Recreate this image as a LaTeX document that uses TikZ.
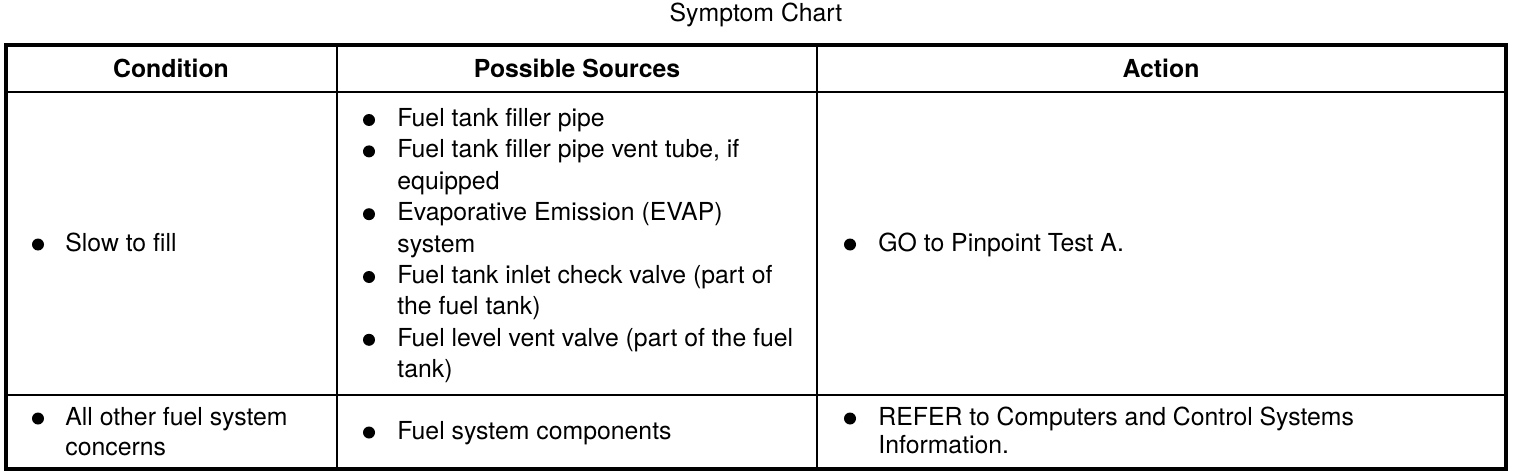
\documentclass[tikz,border=0pt]{standalone}
\usepackage{fontspec}
\setmainfont{TeX Gyre Heros}
\usetikzlibrary{positioning}

\begin{document}
\begin{tikzpicture}[x=0.5pt, y=-0.5pt, font=\fontsize{12.4}{15.7}\selectfont,
  txt/.style={anchor=base west, inner sep=0},
  hdr/.style={anchor=base, inner sep=0, font=\fontsize{12.4}{15.7}\selectfont\bfseries},
  dot/.style={circle, fill, inner sep=0, minimum size=6pt},
  rule/.style={line width=1pt}]
  \useasboundingbox (0,0) rectangle (1520,476);
  \draw (756,22) node[anchor=base, inner sep=0] (title) {Symptom Chart};

  % frame and rules
  \draw[line width=2pt] (6,45) rectangle (1505.5,469);
  \draw[rule] (6,92) -- (1505.5,92);
  \draw[rule] (6,395) -- (1505.5,395);
  \draw[rule] (337,45) -- (337,469);
  \draw[rule] (817,45) -- (817,469);

  % headings
  \draw (171,78) node[hdr] (hcond) {Condition};
  \draw (577,78) node[hdr] (hsrc) {Possible Sources};
  \draw (1161,78) node[hdr] (hact) {Action};

  % slow to fill
  \draw (38,244.5) node[dot] (cb1) {}; \draw (65,251) node[txt] (cond1) {Slow to fill};
  \foreach \k in {0,1,3,5,7}
    \draw (369,126.5+31.4*\k-6.5) node[dot] (sb\k) {};
  \foreach \t [count=\k from 0] in {Fuel tank filler pipe, {Fuel tank filler pipe vent tube, if}, equipped,
      Evaporative Emission (EVAP), system, Fuel tank inlet check valve (part of, the fuel tank),
      Fuel level vent valve (part of the fuel, tank)}
    \draw (397,126.5+31.4*\k) node[txt] (src\k) {\t};
  \draw (850,244.5) node[dot] (ab1) {}; \draw (878,251) node[txt] (act1) {GO to Pinpoint Test A.};

  % all other concerns
  \draw (38,418.5) node[dot] (cb2) {};
  \draw (65,425) node[txt] (cond2a) {All other fuel system};
  \draw (65,455) node[txt] (cond2b) {concerns};
  \draw (369,432.5) node[dot] (sb9) {}; \draw (397,439) node[txt] (src9) {Fuel system components};
  \draw (850,418.5) node[dot] (ab2) {};
  \draw (878,425) node[txt] (act2a) {REFER to Computers and Control Systems};
  \draw (878,453) node[txt] (act2b) {Information.};
\end{tikzpicture}
\end{document}
